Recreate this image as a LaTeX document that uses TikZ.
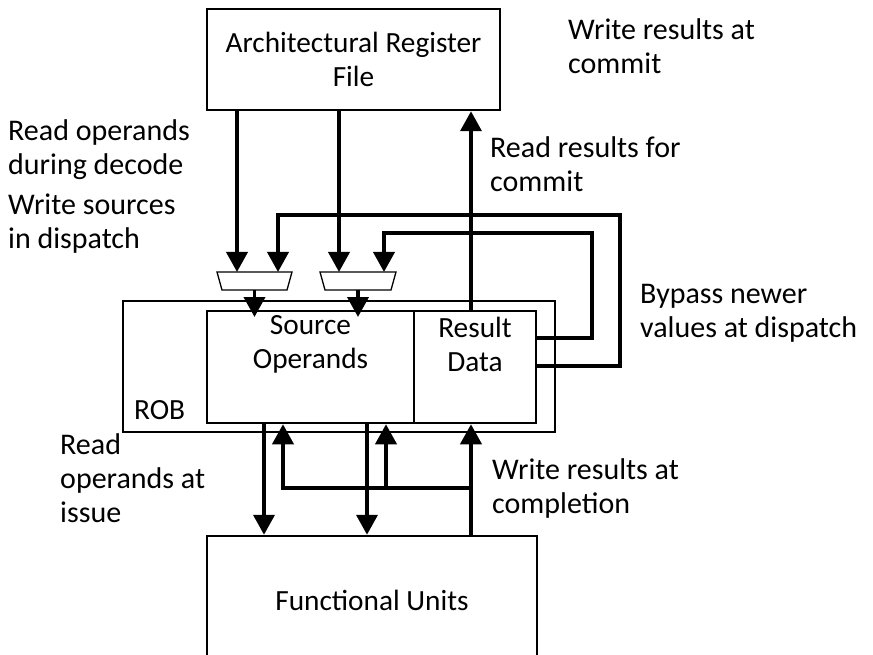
\documentclass[tikz,border=0pt]{standalone}
\usepackage{fontspec}
\setmainfont{Carlito}
\usetikzlibrary{arrows.meta}
\begin{document}
\begin{tikzpicture}[x=1pt,y=-1pt,
  box/.style={draw, line width=2.5pt, inner sep=0pt},
  lbl/.style={inner sep=0pt, font=\fontsize{30}{34}\selectfont},
  blbl/.style={inner sep=0pt, font=\fontsize{29.3}{34}\selectfont},
  arr/.style={line width=3.8pt, -{Triangle[width=21pt,length=20pt]}},
  muxs/.style={draw, fill=white, line width=1.3pt}]
\useasboundingbox (0,0) rectangle (873,655);
\clip (0,0) rectangle (873,655);
\fill[white] (0,0) rectangle (873,655);

% boxes
\node[box, minimum width=293pt, minimum height=101pt, blbl, align=center] (arf) at (353.5,59.5) {Architectural Register\\File};
\node[box, minimum width=432pt, minimum height=131pt] (rob) at (339,366.5) {};
\node[box, fill=white, minimum width=207pt, minimum height=112pt] (src) at (310.5,367) {};
\node[box, fill=white, minimum width=122pt, minimum height=112pt] (res) at (475,367) {};
\node[box, minimum width=330pt, minimum height=184pt] (fu) at (372,628) {};

\node[blbl, align=center] (srct) at (310.5,344) {Source\\Operands};
\node[blbl, align=center] (rest) at (475,344) {Result\\Data};
\node[blbl, anchor=west] (robt) at (134,410) {ROB};
\node[blbl] (fut) at (372,600) {Functional Units};

% muxes
\draw[muxs] (217,272) -- (292,272) -- (287,290) -- (222,290) -- cycle;
\draw[muxs] (320,272) -- (396,272) -- (391,290) -- (325,290) -- cycle;
\coordinate (m1a) at (237,272);
\coordinate (m1b) at (278,272);
\coordinate (m1o) at (254.5,290);
\coordinate (m2a) at (339,272);
\coordinate (m2b) at (384,272);
\coordinate (m2o) at (358,290);

% ARF to muxes
\draw[arr] (arf.south -| m1a) -- (m1a);
\draw[arr] (arf.south -| m2a) -- (m2a);
% mux outputs
\coordinate (m1t) at (254.5,317);
\coordinate (m2t) at (358,317);
\draw[arr] (m1o) -- (m1t);
\draw[arr] (m2o) -- (m2t);

% bypass
\coordinate (b1) at (620,366);
\coordinate (b1t) at (620,215);
\coordinate (b2) at (592,338);
\coordinate (b2t) at (592,233);
\draw[arr] (res.east |- b1) -| (b1t) -| (m1b);
\draw[arr] (res.east |- b2) -| (b2t) -| (m2b);

% result to ARF
\coordinate (rx) at (471,488);
\draw[arr] (res.north -| rx) -- (arf.south -| rx);

% below ROB
\coordinate (d1) at (264,480);
\coordinate (d2) at (367,480);
\coordinate (u1) at (283,480);
\coordinate (u2) at (386,480);
\draw[arr] (src.south -| d1) -- (fu.north -| d1);
\draw[arr] (src.south -| d2) -- (fu.north -| d2);
\draw[arr] (fu.north -| rx) -- (res.south -| rx);
\draw[arr] (rx) -| (src.south -| u1);
\draw[arr] (u2 |- rx) -- (src.south -| u2);

% labels
\node[lbl, anchor=west, align=left] (l1) at (568,46) {Write results at\\commit};
\node[lbl, anchor=west, align=left] (l2) at (8,150) {Read operands\\during decode};
\node[lbl, anchor=west, align=left] (l3) at (490,164) {Read results for\\commit};
\node[lbl, anchor=west, align=left] (l4) at (8,224) {Write sources\\in dispatch};
\node[lbl, anchor=west, align=left] (l5) at (640,313) {Bypass newer\\values at dispatch};
\node[lbl, anchor=west, align=left] (l6) at (60,478) {Read\\operands at\\issue};
\node[lbl, anchor=west, align=left] (l7) at (492,488) {Write results at\\completion};
\end{tikzpicture}
\end{document}
